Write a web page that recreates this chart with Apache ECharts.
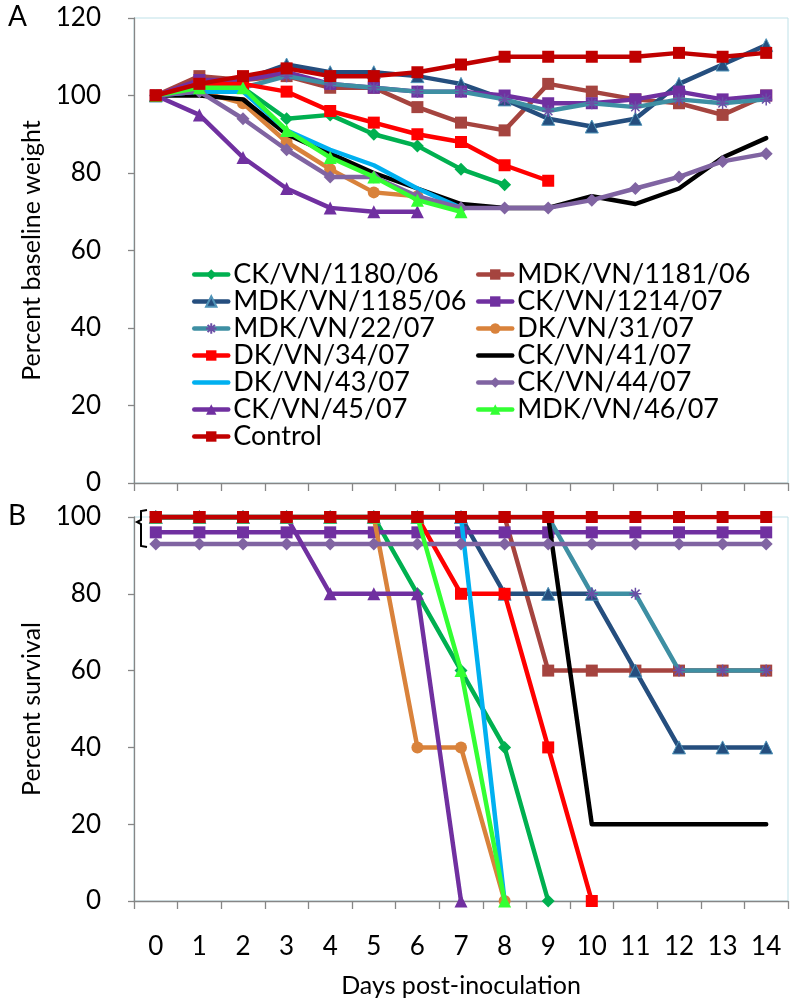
<!DOCTYPE html>
<html><head><meta charset="utf-8">
<script src="https://cdn.jsdelivr.net/npm/echarts@6/dist/echarts.min.js"></script>
<style>html,body{margin:0;padding:0;background:#fff}#c{width:796px;height:1008px}</style>
</head><body><div id="c"></div>
<script>
const days = ['0','1','2','3','4','5','6','7','8','9','10','11','12','13','14'];
const names = ['CK/VN/1180/06','MDK/VN/1181/06','MDK/VN/1185/06','CK/VN/1214/07','MDK/VN/22/07','DK/VN/31/07','DK/VN/34/07','CK/VN/41/07','DK/VN/43/07','CK/VN/44/07','CK/VN/45/07','MDK/VN/46/07','Control'];
const weightTicks = [0,20,40,60,80,100,120];
const survivalTicks = [0,20,40,60,80,100];

// Panel A: percent baseline weight
const w_1180 = [100,102,102,94,95,90,87,81,77,null,null,null,null,null,null];
const w_1181 = [100,105,104,105,102,102,97,93,91,103,101,99,98,95,100];
const w_1185 = [100,103,104,108,106,106,105,103,99,94,92,94,103,108,113];
const w_1214 = [100,104,104,106,103,102,101,101,100,98,98,99,101,99,100];
const w_22   = [100,101,102,105,103,102,101,101,99,96,98,97,99,98,99];
const w_31   = [100,101,98,88,81,75,74,null,null,null,null,null,null,null,null];
const w_34   = [100,103,103,101,96,93,90,88,82,78,null,null,null,null,null];
const w_41   = [100,100,99,90,85,80,76,72,71,71,74,72,76,84,89];
const w_43   = [100,101,101,91,86,82,76,71,null,null,null,null,null,null,null];
const w_44   = [100,101,94,86,79,79,74,71,71,71,73,76,79,83,85];
const w_45   = [100,95,84,76,71,70,70,null,null,null,null,null,null,null,null];
const w_46   = [100,102,102,91,84,79,73,70,null,null,null,null,null,null,null];
const w_ctrl = [100,103,105,107,105,105,106,108,110,110,110,110,111,110,111];

// Panel B: percent survival
const s_1180 = [100,100,100,100,100,100,80,60,40,0,null,null,null,null,null];
const s_1181 = [100,100,100,100,100,100,100,100,100,60,60,60,60,60,60];
const s_1185 = [100,100,100,100,100,100,100,100,80,80,80,60,40,40,40];
const s_1214 = [96,96,96,96,96,96,96,96,96,96,96,96,96,96,96];
const s_22   = [100,100,100,100,100,100,100,100,100,100,80,80,60,60,60];
const s_31   = [100,100,100,100,100,100,40,40,0,null,null,null,null,null,null];
const s_34   = [100,100,100,100,100,100,100,80,80,40,0,null,null,null,null];
const s_41   = [100,100,100,100,100,100,100,100,100,100,20,20,20,20,20];
const s_43   = [100,100,100,100,100,100,100,100,0,null,null,null,null,null,null];
const s_44   = [93,93,93,93,93,93,93,93,93,93,93,93,93,93,93];
const s_45   = [100,100,100,100,80,80,80,0,null,null,null,null,null,null,null];
const s_46   = [100,100,100,100,100,100,100,60,0,null,null,null,null,null,null];
const s_ctrl = [100,100,100,100,100,100,100,100,100,100,100,100,100,100,100];

const weights = [w_1180,w_1181,w_1185,w_1214,w_22,w_31,w_34,w_41,w_43,w_44,w_45,w_46,w_ctrl];
const survival = [s_1180,s_1181,s_1185,s_1214,s_22,s_31,s_34,s_41,s_43,s_44,s_45,s_46,s_ctrl];

const ASTER = 'path://M5,0L5,10M0,5L10,5M1.5,1.5L8.5,8.5M8.5,1.5L1.5,8.5';
const styles = [
  {c:'#00B050', sym:'diamond', size:13},
  {c:'#A5443F', sym:'rect', size:12},
  {c:'#254E7E', sym:'triangle', size:13, border:'#4F93B8'},
  {c:'#7030A0', sym:'rect', size:12},
  {c:'#3E8FA3', sym:ASTER, size:12, border:'#6A4FA6', bw:1.5},
  {c:'#D9823B', sym:'circle', size:12},
  {c:'#FF0000', sym:'rect', size:12},
  {c:'#000000', sym:'none', size:0},
  {c:'#00B0F0', sym:'none', size:0},
  {c:'#8064A2', sym:'diamond', size:13},
  {c:'#7030A0', sym:'triangle', size:13},
  {c:'#33FF33', sym:'triangle', size:13},
  {c:'#C00000', sym:'rect', size:12}
];

const FONT = 'Lato';
const axisColor = '#868686';

function mkSeries(dataArr, axisIdx) {
  return names.map((n, i) => {
    const s = styles[i];
    const noSym = s.sym === 'none';
    const it = {color: noSym ? 'rgba(0,0,0,0)' : s.c};
    if (s.border) { it.borderColor = s.border; it.borderWidth = s.bw || 1; }
    return {
      type:'line', name:n, xAxisIndex:axisIdx, yAxisIndex:axisIdx,
      data: dataArr[i], symbol: noSym ? 'circle' : s.sym, symbolSize: noSym ? 1 : s.size, showSymbol: !noSym,
      connectNulls:false,
      lineStyle:{color:s.c, width:4.5, cap:'round', join:'round'},
      itemStyle: it,
      emphasis:{disabled:true}, silent:true, z: 2 + i*0.01
    };
  });
}

const legendCommon = {
  orient:'vertical', itemWidth:34, itemHeight:13, itemGap:0,
  textStyle:{fontFamily:FONT, fontSize:27, color:'#000'},
  lineStyle:{width:4.5},
  selectedMode:false
};

const option = {
  animation:false,
  backgroundColor:'#fff',
  grid:[
    {left:134, right:8, top:18, height:465, show:true, borderColor:'#BFE1E8', borderWidth:1, containLabel:false},
    {left:134, right:8, top:517, height:384, show:true, borderColor:'#BFE1E8', borderWidth:1, containLabel:false}
  ],
  xAxis:[
    {type:'category', gridIndex:0, data:days, boundaryGap:true,
     axisLine:{lineStyle:{color:axisColor, width:1.3}},
     axisTick:{show:true, length:8, interval:0, lineStyle:{color:axisColor, width:1.3}},
     axisLabel:{show:false}, splitLine:{show:false}},
    {type:'category', gridIndex:1, data:days, boundaryGap:true,
     axisLine:{lineStyle:{color:axisColor, width:1.3}},
     axisTick:{show:true, length:8, interval:0, lineStyle:{color:axisColor, width:1.3}},
     axisLabel:{show:true, interval:0, margin:33, fontFamily:FONT, fontSize:26, color:'#000'},
     name:'Days post-inoculation', nameLocation:'middle', nameGap:72,
     nameTextStyle:{fontFamily:FONT, fontSize:25, color:'#000'},
     splitLine:{show:false}}
  ],
  yAxis:[
    {type:'value', gridIndex:0, min:weightTicks[0], max:weightTicks[weightTicks.length-1], interval:20,
     axisLine:{show:true, lineStyle:{color:axisColor, width:1.3}},
     axisTick:{show:true, length:6, lineStyle:{color:axisColor, width:1.3}},
     axisLabel:{margin:33, fontFamily:FONT, fontSize:26, color:'#000'},
     splitLine:{show:false},
     name:'Percent baseline weight', nameLocation:'middle', nameGap:66, nameRotate:90,
     nameTextStyle:{fontFamily:FONT, fontSize:25, color:'#000'}},
    {type:'value', gridIndex:1, min:survivalTicks[0], max:survivalTicks[survivalTicks.length-1], interval:20,
     axisLine:{show:true, lineStyle:{color:axisColor, width:1.3}},
     axisTick:{show:true, length:6, lineStyle:{color:axisColor, width:1.3}},
     axisLabel:{margin:33, fontFamily:FONT, fontSize:26, color:'#000'},
     splitLine:{show:false},
     name:'Percent survival', nameLocation:'middle', nameGap:66, nameRotate:90,
     nameTextStyle:{fontFamily:FONT, fontSize:25, color:'#000'}}
  ],
  legend:[
    Object.assign({}, legendCommon, {left:187, top:256, data:names.filter((n,i)=>i%2===0)}),
    Object.assign({}, legendCommon, {left:471, top:256, data:names.filter((n,i)=>i%2===1)})
  ],
  graphic:[
    {type:'text', left:8, top:3, style:{text:'A', fontFamily:FONT, fontSize:28, fill:'#000'}},
    {type:'text', left:8, top:502, style:{text:'B', fontFamily:FONT, fontSize:28, fill:'#000'}},
    {type:'polyline', shape:{points:[[147,510],[141,511],[141,520],[137,522],[141,524],[141,546],[147,547]]},
     style:{stroke:'#000', lineWidth:2, fill:null}, z:10}
  ],
  series: mkSeries(weights, 0).concat(mkSeries(survival, 1))
};

const chart = echarts.init(document.getElementById('c'), null, {renderer:'canvas'});
chart.setOption(option);
</script>
</body></html>
